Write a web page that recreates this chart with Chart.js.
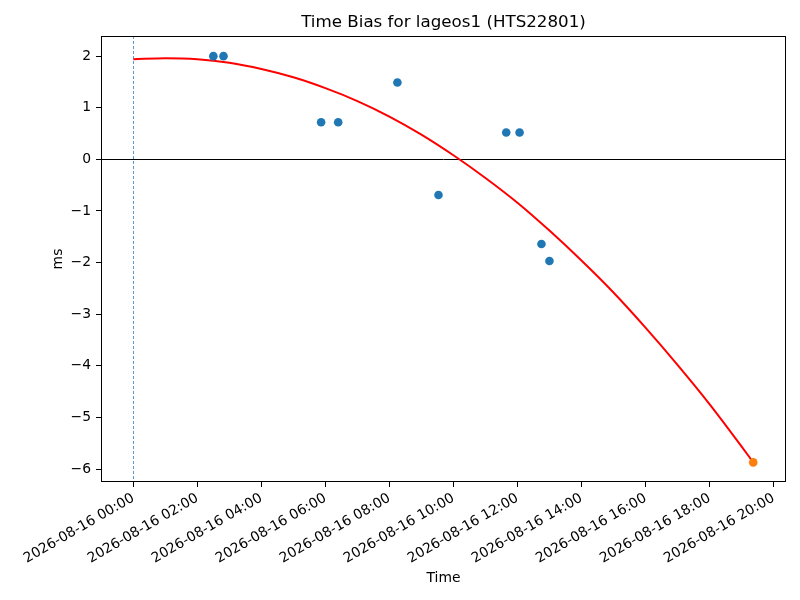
<!DOCTYPE html>
<html>
<head>
<meta charset="utf-8">
<script src="https://cdn.jsdelivr.net/npm/chart.js@4.4.0/dist/chart.umd.min.js"></script>
<style>
  html, body { margin: 0; padding: 0; background: #fff; }
  canvas { display: block; }
</style>
</head>
<body>
<canvas id="chart" width="800" height="600"></canvas>
<script>
const titulo = "Time Bias for lageos1 (HTS22801)";
const fecha = "2026-08-16";

// puntos medidos (azul)
const horasMedidas = ["02:30", "02:49", "05:52", "06:24", "08:15", "09:32", "11:39", "12:04", "12:45", "13:00"];
const sesgoMedido = [2.00, 2.00, 0.72, 0.72, 1.49, -0.69, 0.52, 0.52, -1.64, -1.97];

// punto predicho (naranja)
const horasPrediccion = ["19:22"];
const sesgoPrediccion = [-5.87];

// curva de ajuste (roja)
const horasAjuste = ["00:00", "01:00", "02:00", "03:00", "04:00", "05:00", "06:00", "07:00", "08:00", "09:00",
  "10:00", "11:00", "12:00", "13:00", "14:00", "15:00", "16:00", "17:00", "18:00", "19:00", "19:22"];
const sesgoAjuste = [1.94, 1.96, 1.94, 1.87, 1.75, 1.59, 1.38, 1.13, 0.83, 0.48,
  0.08, -0.36, -0.84, -1.38, -1.96, -2.58, -3.26, -3.98, -4.74, -5.56, -5.87];

const ticksX = [0, 2, 4, 6, 8, 10, 12, 14, 16, 18, 20];
const ticksY = [-6, -5, -4, -3, -2, -1, 0, 1, 2];
const lineaCero = 0;
const lineaInicio = 0;

function aHoras(hhmm) {
  const [h, m] = hhmm.split(":").map(Number);
  return h + m / 60;
}

function puntos(horas, valores) {
  return horas.map((h, i) => ({ x: aHoras(h), y: valores[i] }));
}

function dosDigitos(n) {
  return String(n).padStart(2, "0");
}

const fuente = "'DejaVu Sans', sans-serif";

// titulo, marco y lineas de referencia
const extras = {
  id: "extras",
  beforeDatasetsDraw(chart) {
    const { ctx, chartArea: a, scales } = chart;
    ctx.save();
    const y0 = Math.round(scales.y.getPixelForValue(lineaCero)) + 0.5;
    ctx.strokeStyle = "#000";
    ctx.lineWidth = 1;
    ctx.beginPath();
    ctx.moveTo(a.left, y0);
    ctx.lineTo(a.right, y0);
    ctx.stroke();

    const x0 = Math.round(scales.x.getPixelForValue(lineaInicio)) + 0.5;
    ctx.strokeStyle = "#5b9bd0";
    ctx.lineWidth = 1;
    ctx.setLineDash([3, 2]);
    ctx.beginPath();
    ctx.moveTo(x0, a.top);
    ctx.lineTo(x0, a.bottom);
    ctx.stroke();
    ctx.restore();
  },
  afterDraw(chart) {
    const { ctx, chartArea: a } = chart;
    ctx.save();
    ctx.strokeStyle = "#000";
    ctx.lineWidth = 1;
    ctx.strokeRect(a.left + 0.5, a.top + 0.5, a.right - a.left - 1, a.bottom - a.top - 1);
    ctx.fillStyle = "#000";
    ctx.font = "16.7px " + fuente;
    ctx.textAlign = "center";
    ctx.textBaseline = "alphabetic";
    ctx.fillText(titulo, (a.left + a.right) / 2, 27);
    ctx.restore();
  }
};

const grafico = new Chart(document.getElementById("chart").getContext("2d"), {
  data: {
    datasets: [
      {
        type: "scatter",
        data: puntos(horasMedidas, sesgoMedido),
        backgroundColor: "#1f77b4",
        borderWidth: 0,
        pointRadius: 4.3,
        order: 1
      },
      {
        type: "scatter",
        data: puntos(horasPrediccion, sesgoPrediccion),
        backgroundColor: "#ff7f0e",
        borderWidth: 0,
        pointRadius: 4.3,
        order: 0
      },
      {
        type: "line",
        data: puntos(horasAjuste, sesgoAjuste),
        borderColor: "#ff0000",
        borderWidth: 2,
        pointRadius: 0,
        fill: false,
        cubicInterpolationMode: "monotone",
        order: 2
      }
    ]
  },
  options: {
    responsive: false,
    animation: false,
    devicePixelRatio: 1,
    layout: { padding: { top: 36, right: 14, left: 0, bottom: 0 } },
    plugins: {
      legend: { display: false },
      tooltip: { enabled: false },
      title: { display: false }
    },
    scales: {
      x: {
        type: "linear",
        min: -1.01,
        max: 20.39,
        afterBuildTicks: s => { s.ticks = ticksX.map(v => ({ value: v })); },
        afterFit: s => { s.height = 118; },
        border: { display: false },
        grid: { drawOnChartArea: false, drawTicks: true, tickLength: 5, color: "#000" },
        ticks: {
          autoSkip: false,
          maxRotation: 30,
          minRotation: 30,
          padding: 3,
          color: "#000",
          font: { family: fuente, size: 13.9 },
          callback: v => fecha + " " + dosDigitos(v) + ":00"
        },
        title: {
          display: true,
          text: "Time",
          color: "#000",
          font: { family: fuente, size: 13.9 },
          padding: { top: 0, bottom: 13 }
        }
      },
      y: {
        type: "linear",
        min: -6.25,
        max: 2.39,
        afterBuildTicks: s => { s.ticks = ticksY.map(v => ({ value: v })); },
        afterFit: s => { s.width = 101; },
        border: { display: false },
        grid: { drawOnChartArea: false, drawTicks: true, tickLength: 5, color: "#000" },
        ticks: {
          padding: 5,
          color: "#000",
          font: { family: fuente, size: 13.9 },
          callback: v => (v < 0 ? "\u2212" + Math.abs(v) : String(v))
        },
        title: {
          display: true,
          text: "ms",
          color: "#000",
          font: { family: fuente, size: 13.9 },
          padding: { top: 50, bottom: 0 }
        }
      }
    }
  },
  plugins: [extras]
});
</script>
</body>
</html>
